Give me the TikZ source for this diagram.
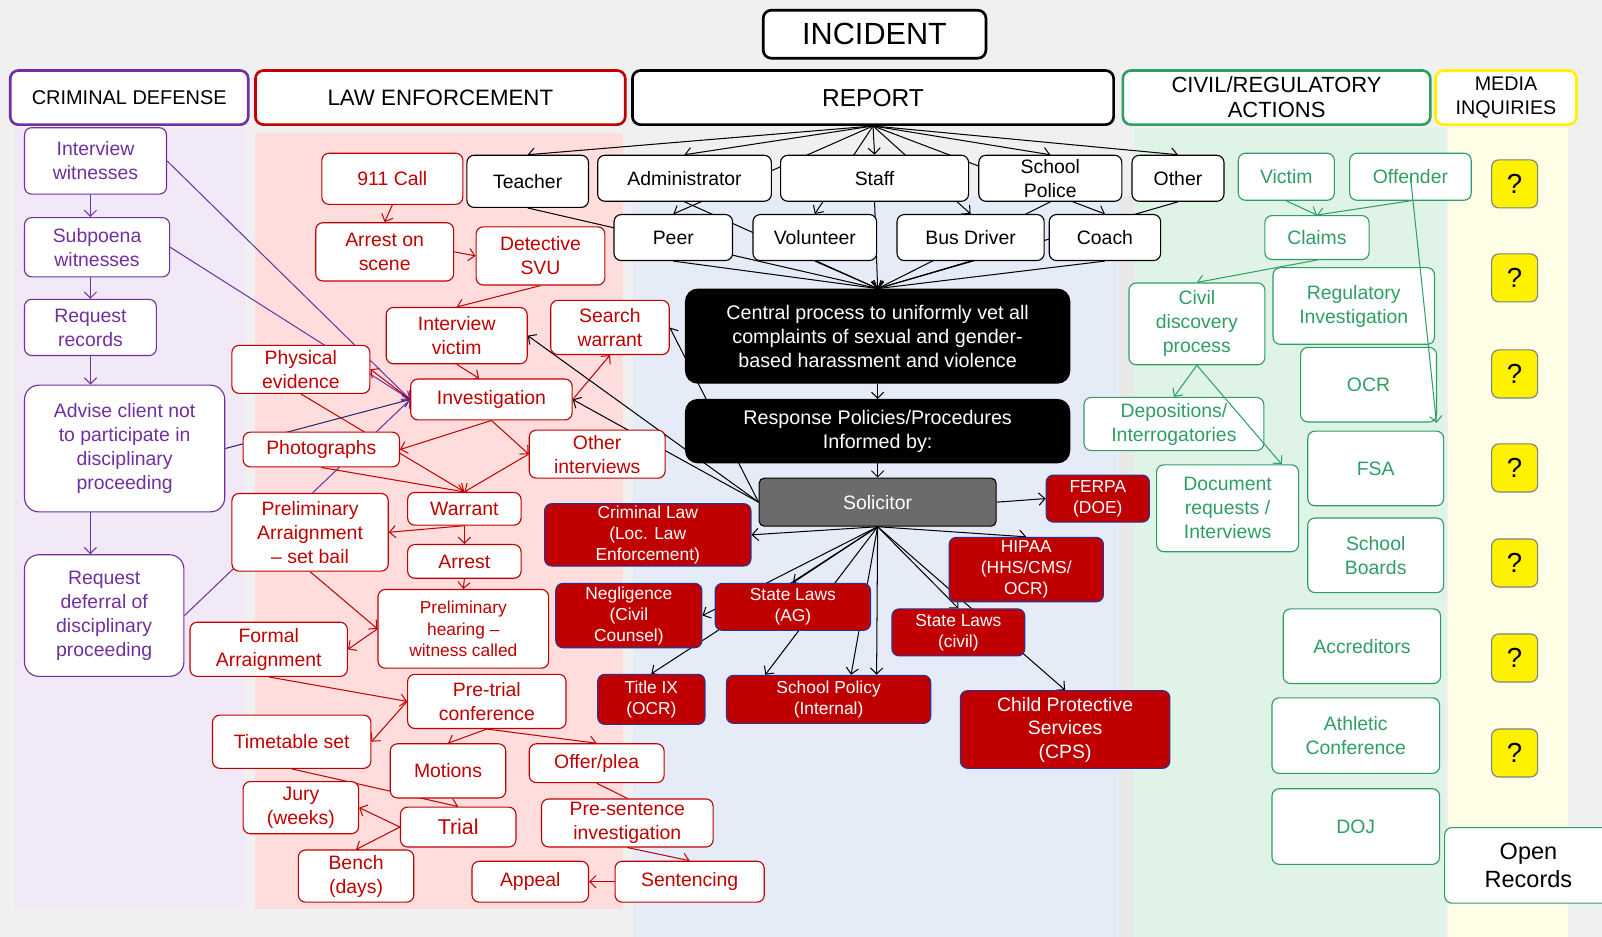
\documentclass[tikz,border=0pt]{standalone}
\usepackage{fontspec}
\setmainfont{Liberation Sans}
\usetikzlibrary{arrows.meta}
\definecolor{cdcol}{HTML}{7030A0}
\definecolor{lecol}{HTML}{C00000}
\definecolor{cvcol}{HTML}{2F9E64}
\definecolor{navy}{HTML}{2E3192}
\definecolor{solgray}{HTML}{6B6B6B}
\definecolor{pagebg}{HTML}{F0F0F0}
\definecolor{cdbg}{HTML}{F1E8F8}
\definecolor{lebg}{HTML}{FFDDDD}
\definecolor{rpbg}{HTML}{E5EBF7}
\definecolor{cvbg}{HTML}{DFF3E7}
\definecolor{mdbg}{HTML}{FEFEE6}
\pgfdeclarelayer{panels}
\pgfdeclarelayer{edges}
\pgfsetlayers{panels,edges,main}

\begin{document}
\begin{tikzpicture}[x=1pt, y=-1pt,
  >={Straight Barb[length=6pt,width=12pt]},
  bx/.style={draw, fill=white, rounded corners=7pt, align=center,
    inner sep=1pt, line width=1.1pt},
  sz/.style 2 args={minimum width=#1pt, minimum height=#2pt},
  hd/.style={bx, line width=2.6pt, rounded corners=8pt, text=black},
  cd/.style={bx, draw=cdcol, text=cdcol, font=\fontsize{19}{23.5}\selectfont},
  le/.style={bx, draw=lecol, text=lecol, font=\fontsize{19}{23.5}\selectfont},
  rp/.style={bx, draw=black, text=black, font=\fontsize{19}{23.5}\selectfont},
  blk/.style={bx, draw=black, fill=black, text=white, rounded corners=12pt,
    font=\fontsize{19.3}{23.5}\selectfont},
  law/.style={bx, draw=navy, fill=lecol, text=white,
    font=\fontsize{17}{20.5}\selectfont},
  cv/.style={bx, draw=cvcol, text=cvcol, font=\fontsize{19}{23.5}\selectfont},
  qm/.style={bx, draw=gray, fill=yellow, text=black, sz={45}{47},
    font=\fontsize{27}{30}\selectfont},
  cdl/.style={draw=cdcol, line width=1pt, ->},
  lel/.style={draw=lecol, line width=1pt, ->},
  rpl/.style={draw=black, line width=1pt, ->},
  cvl/.style={draw=cvcol, line width=1pt, ->}
]
\useasboundingbox (0,0) rectangle (1568,917);
\clip (0,0) rectangle (1568,917);

% column panels
\begin{pgfonlayer}{panels}
  \fill[pagebg] (0,0) rectangle (1568,917);
  \fill[cdbg] (15,125) rectangle (240,890);
  \fill[lebg] (250,130) rectangle (610,890);
  \fill[rpbg] (620,192) rectangle (1095,917);
  \fill[black!9] (1095,192) rectangle (1110,917);
  \fill[cvbg] (1110,125) rectangle (1415,917);
  \fill[mdbg] (1417,125) rectangle (1535,917);
\end{pgfonlayer}

% headers
\node[hd, sz={218}{47}, font=\fontsize{30}{32}\selectfont] (incident) at (856,33.5) {INCIDENT};
\node[hd, draw=cdcol, sz={233}{53}, font=\fontsize{19.5}{23}\selectfont] (hcd) at (126.5,95.5) {CRIMINAL DEFENSE};
\node[hd, draw=lecol, sz={362}{53}, font=\fontsize{21.8}{24}\selectfont] (hle) at (431,95.5) {LAW ENFORCEMENT};
\node[hd, sz={471}{53}, font=\fontsize{24}{26}\selectfont] (hrp) at (854.5,95.5) {REPORT};
\node[hd, draw=cvcol, sz={301}{53}, font=\fontsize{21.5}{24.5}\selectfont] (hcv) at (1249.5,95.5) {CIVIL/REGULATORY\\ACTIONS};
\node[hd, draw=yellow, sz={138}{53}, font=\fontsize{19.3}{23.5}\selectfont] (hmd) at (1474,95.5) {MEDIA\\INQUIRIES};

% criminal defense
\node[cd, sz={139}{65}] (iw) at (93.5,157.5) {Interview\\witnesses};
\node[cd, sz={142}{58}] (sw) at (95,242) {Subpoena\\witnesses};
\node[cd, sz={129}{55}] (rr) at (88.5,320.5) {Request\\records};
\node[cd, sz={196}{124}, rounded corners=14pt] (adv) at (122,439) {Advise client not\\to participate in\\disciplinary\\proceeding};
\node[cd, sz={156}{119}, rounded corners=14pt] (rdf) at (102,602.5) {Request\\deferral of\\disciplinary\\proceeding};

% law enforcement
\node[le, sz={138}{50}] (call) at (384,175) {911 Call};
\node[le, sz={135}{57}] (aos) at (376.5,246.5) {Arrest on\\scene};
\node[le, sz={126}{57}] (svu) at (529,250.5) {Detective\\SVU};
\node[le, sz={138}{55}] (ivic) at (447,328.5) {Interview\\victim};
\node[le, sz={116}{53}] (swar) at (597,320.5) {Search\\warrant};
\node[le, sz={135}{47}] (phys) at (294.5,361.5) {Physical\\evidence};
\node[le, sz={158}{40}] (inv) at (481,391) {Investigation};
\node[le, sz={153}{34}] (photo) at (314.5,440) {Photographs};
\node[le, sz={133}{47}] (oint) at (584.5,444.5) {Other\\interviews};
\node[le, sz={111}{32}] (warr) at (454.5,498) {Warrant};
\node[le, sz={153}{76}] (parr) at (303.5,521) {Preliminary\\Arraignment\\– set bail};
\node[le, sz={111}{33}] (arr) at (454.5,549.5) {Arrest};
\node[le, sz={167}{77}, font=\fontsize{17}{21}\selectfont] (phear) at (453.5,615.5) {Preliminary\\hearing –\\witness called};
\node[le, sz={154}{53}] (farr) at (263,635.5) {Formal\\Arraignment};
\node[le, sz={155}{53}] (ptc) at (476.5,686.5) {Pre-trial\\conference};
\node[le, sz={155}{52}] (tts) at (285.5,726) {Timetable set};
\node[le, sz={113}{53}] (mot) at (438.5,754.5) {Motions};
\node[le, sz={132}{38}] (offer) at (584,747) {Offer/plea};
\node[le, sz={113}{51}] (jury) at (294.5,790.5) {Jury\\(weeks)};
\node[le, sz={113}{39}, font=\fontsize{21}{24}\selectfont] (trial) at (448.5,809.5) {Trial};
\node[le, sz={168}{47}] (psi) at (614,805.5) {Pre-sentence\\investigation};
\node[le, sz={113}{51}] (bench) at (348.5,857.5) {Bench\\(days)};
\node[le, sz={114}{40}] (appeal) at (519,863) {Appeal};
\node[le, sz={146}{40}] (sent) at (675,863) {Sentencing};

% report
\node[rp, sz={119}{51}] (teach) at (516.5,177.5) {Teacher};
\node[rp, sz={170}{45}] (admin) at (670,174.5) {Administrator};
\node[rp, sz={184}{45}] (staff) at (856,174.5) {Staff};
\node[rp, sz={140}{45}] (spol) at (1028,174.5) {School\\Police};
\node[rp, sz={90}{45}] (oth) at (1153,174.5) {Other};
\node[rp, sz={116}{45}] (peer) at (659,232.5) {Peer};
\node[rp, sz={121}{45}] (vol) at (797.5,232.5) {Volunteer};
\node[rp, sz={144}{45}] (bus) at (950,232.5) {Bus Driver};
\node[rp, sz={109}{45}] (coach) at (1081.5,232.5) {Coach};
\node[blk, sz={376}{92}] (cent) at (859,329) {Central process to uniformly vet all\\complaints of sexual and gender-\\based harassment and violence};
\node[blk, sz={376}{62}] (resp) at (859,422) {Response Policies/Procedures\\Informed by:};
\node[bx, draw=black, fill=solgray, text=white, rounded corners=5pt, sz={232}{47},
  font=\fontsize{19}{23}\selectfont] (sol) at (859,491.5) {Solicitor};

% laws and agencies
\node[law, sz={202}{61}] (crim) at (634,523.5) {Criminal Law\\(Loc. Law\\Enforcement)};
\node[law, sz={101}{46}] (fer) at (1074.5,488) {FERPA\\(DOE)};
\node[law, sz={151}{63}] (hip) at (1004.5,557.5) {HIPAA\\(HHS/CMS/\\OCR)};
\node[law, sz={143}{63}] (neg) at (615.5,602.5) {Negligence\\(Civil\\Counsel)};
\node[law, sz={152}{46}] (ag) at (776,594) {State Laws\\(AG)};
\node[law, sz={130}{46}] (civ) at (938,619) {State Laws\\(civil)};
\node[law, sz={105}{49}] (t9) at (637.5,684.5) {Title IX\\(OCR)};
\node[law, sz={200}{47}] (spolicy) at (811,684.5) {School Policy\\(Internal)};
\node[law, sz={205}{76}, font=\fontsize{19}{23}\selectfont] (cps) at (1042.5,714) {Child Protective\\Services\\(CPS)};

% civil / regulatory
\node[cv, sz={94}{46}] (vic) at (1259,173) {Victim};
\node[cv, sz={119}{46}] (off) at (1380.5,173) {Offender};
\node[cv, sz={102}{43}] (clm) at (1289,232.5) {Claims};
\node[cv, sz={133}{80}] (cdp) at (1171.5,317) {Civil\\discovery\\process};
\node[cv, sz={158}{75}] (reg) at (1325,299.5) {Regulatory\\Investigation};
\node[cv, sz={133}{73}] (ocr) at (1339.5,376.5) {OCR};
\node[cv, sz={176}{52}] (dep) at (1149,415) {Depositions/\\Interrogatories};
\node[cv, sz={139}{85}] (doc) at (1201.5,497.5) {Document\\requests /\\Interviews};
\node[cv, sz={133}{73}] (fsa) at (1346.5,458.5) {FSA};
\node[cv, sz={133}{73}] (sb) at (1346.5,543.5) {School\\Boards};
\node[cv, sz={154}{73}] (acc) at (1333,632.5) {Accreditors};
\node[cv, sz={164}{74}] (ath) at (1327,720) {Athletic\\Conference};
\node[cv, sz={164}{74}] (doj) at (1327,809) {DOJ};
\node[bx, draw=cvcol, text=black, sz={164}{74}, font=\fontsize{23}{28}\selectfont]
  (orec) at (1496,847) {Open\\Records};
\coordinate (offend) at (1406,414);

% media
\foreach \y/\n in {180/q1,272/q2,366/q3,458/q4,551/q5,644/q6,737/q7} {
  \node[qm] (\n) at (1482.5,\y) {?};
}

\begin{pgfonlayer}{edges}
  % criminal defense
  \draw[cdl] (iw.south -| rr.south) -- (sw.north -| rr.south);
  \draw[cdl] (sw.south -| rr.south) -- (rr.north);
  \draw[cdl] (rr.south) -- (adv.north -| rr.south);
  \draw[cdl] (adv.south -| rr.south) -- (rdf.north -| rr.south);
  \draw[cdl] (iw.east) -- (inv.west);
  \draw[cdl] (sw.east) -- (inv.west);
  \draw[cdl, draw=navy!80!black] (adv.east) -- (inv.west);
  \draw[cdl] (rdf.east) -- (inv.west);
  % law enforcement
  \draw[lel] (call.south) -- (aos.north);
  \draw[lel] (aos.east) -- (svu.west);
  \draw[lel] (svu.south) -- (ivic.north);
  \draw[lel] (ivic.south) -- ([xshift=-12pt]inv.north);
  \draw[lel] (inv.west) -- (phys.east);
  \draw[lel] (inv.east) -- (swar.south);
  \draw[lel] (inv.south) -- (photo.east);
  \draw[lel] (inv.south) -- (oint.west);
  \draw[lel] (phys.south) -- (warr.north);
  \draw[lel] (photo.south) -- (warr.north);
  \draw[lel] (oint.west) -- (warr.north);
  \draw[lel] (warr.south) -- (parr.east);
  \draw[lel] (warr.south) -- (arr.north);
  \draw[lel] (arr.south) -- (phear.north);
  \draw[lel] (parr.south) -- (phear.west);
  \draw[lel] (phear.west) -- (farr.east);
  \draw[lel] (farr.south) -- (ptc.west);
  \draw[lel] (ptc.west) -- (tts.east);
  \draw[lel] (ptc.south) -- (mot.north);
  \draw[lel] (ptc.south) -- (offer.north);
  \draw[lel] (tts.south) -- (trial.north);
  \draw[lel] (trial.west) -- (jury.east);
  \draw[lel] (trial.west) -- (bench.north);
  \draw[lel, -] (offer.south) -- (psi.north);
  \draw[lel] (psi.south) -- (sent.north);
  \draw[lel] (sent.west) -- (appeal.east);
  % report fan
  \foreach \n in {teach,admin,staff,spol,oth,peer,vol,bus,coach} {
    \draw[rpl] (hrp.south) -- (\n.north);
    \draw[rpl] (\n.south) -- (cent.north);
  }
  \draw[rpl] (cent.south) -- (resp.north);
  \draw[rpl] (resp.south) -- (sol.north);
  % solicitor
  \draw[rpl] (sol.west) -- (ivic.east);
  \draw[rpl] (sol.west) -- (inv.east);
  \draw[rpl] (sol.west) -- (swar.east);
  \draw[rpl] (sol.south) -- (crim.east);
  \draw[rpl] (sol.east) -- (fer.west);
  \draw[rpl] (sol.south) -- (hip.north);
  \draw[rpl] (sol.south) -- (ag.north);
  \draw[rpl] (sol.south) -- (neg.east);
  \draw[rpl] (sol.south) -- (t9.north);
  \draw[rpl] (sol.south) -- ([xshift=-62pt]spolicy.north);
  \draw[rpl] (sol.south) -- ([xshift=22pt]spolicy.north);
  \draw[rpl] (sol.south) -- ([xshift=47pt]spolicy.north);
  \draw[rpl] (sol.south) -- (civ.north);
  \draw[rpl] (sol.south) -- (cps.north);
  % civil
  \draw[cvl] (vic.south) -- (clm.north);
  \draw[cvl] (off.south) -- (clm.north);
  \draw[cvl] (clm.south) -- (cdp.north);
  \draw[cvl] (cdp.south) -- (dep.north);
\end{pgfonlayer}
\draw[cvl] (cdp.south) -- ([xshift=53pt]doc.north);
\draw[cvl] (off.center) -- (offend);
\end{tikzpicture}
\end{document}
